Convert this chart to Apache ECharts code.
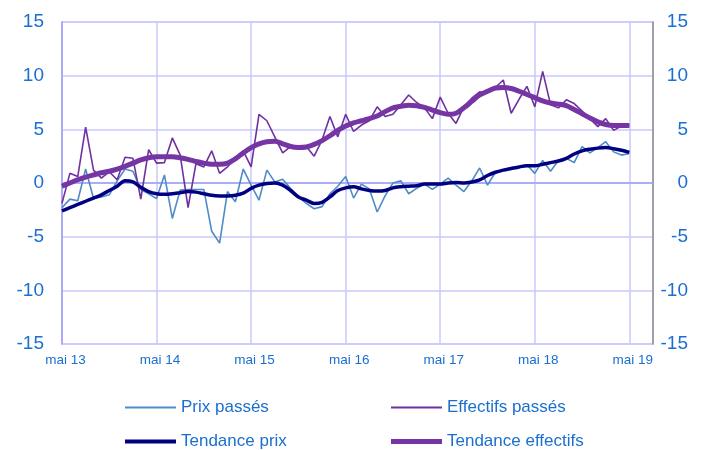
<!DOCTYPE html>
<html>
<head>
<meta charset="utf-8">
<script src="https://cdn.jsdelivr.net/npm/echarts@6/dist/echarts.min.js"></script>
<style>
  html, body { margin: 0; padding: 0; background: #fff; }
  #chart { width: 704px; height: 450px; }
</style>
</head>
<body>
<div id="chart"></div>
<script>
// mois : mai 2013 -> août 2019 (l'axe dépasse un peu la dernière donnée)
const monthNames = ['mai', 'juin', 'juil', 'août', 'sept', 'oct', 'nov', 'déc', 'janv', 'févr', 'mars', 'avr']
const years = ['13', '14', '15', '16', '17', '18', '19']
const months = []
years.forEach(y => monthNames.forEach((m, j) => {
  // l'année change en janvier
  const yy = j >= 8 ? String(Number(y) + 1) : y
  if (months.length < 76) months.push(m + ' ' + yy)
}))

const prixPasses = [
  -2.3, -1.5, -1.65, 1.3, -1.45, -1.3, -1.1, 0.2, 1.3, 1.1, -0.6, -1.0,
  -1.45, 0.75, -3.3, -0.65, -0.6, -0.6, -0.6, -4.5, -5.6, -0.8, -1.75, 1.3,
  -0.2, -1.6, 1.2, 0.1, 0.35, -0.5, -1.3, -1.9, -2.4, -2.2, -1.0, -0.3,
  0.6, -1.4, -0.1, -0.55, -2.7, -1.2, 0.0, 0.2, -1.0, -0.5, -0.1, -0.6,
  -0.1, 0.45, -0.2, -0.8, 0.2, 1.4, -0.2, 1.0, 1.2, 1.4, 1.5, 1.7,
  0.9, 2.1, 1.1, 2.1, 2.3, 1.9, 3.4, 2.8, 3.3, 3.85, 2.9, 2.6,
  2.75
]

const effectifsPasses = [
  -1.9, 0.9, 0.6, 5.2, 1.2, 0.45, 1.05, 0.3, 2.4, 2.3, -1.5, 3.1,
  1.85, 1.9, 4.2, 2.6, -2.3, 1.8, 1.5, 3.0, 0.9, 1.5, 2.4, 3.0,
  1.5, 6.4, 5.8, 4.3, 2.8, 3.4, 3.2, 3.4, 2.5, 4.0, 6.2, 4.3,
  6.4, 4.8, 5.4, 5.8, 7.1, 6.2, 6.4, 7.3, 8.2, 7.5, 7.0, 6.0,
  8.0, 6.5, 5.55, 7.1, 7.9, 8.5, 8.4, 8.9, 9.6, 6.5, 7.8, 9.0,
  7.1, 10.4, 7.3, 7.0, 7.75, 7.4, 6.7, 6.0, 5.25, 6.0, 4.9, 5.3,
  5.4
]

const tendancePrix = [
  -2.6, -2.3, -2.0, -1.7, -1.4, -1.1, -0.7, -0.3, 0.2, 0.1, -0.4, -0.8,
  -1.0, -1.05, -1.0, -0.9, -0.8, -0.85, -1.0, -1.15, -1.2, -1.2, -1.15, -0.95,
  -0.5, -0.2, -0.05, 0.0, -0.2, -0.7, -1.3, -1.6, -1.9, -1.8, -1.3, -0.7,
  -0.45, -0.35, -0.55, -0.7, -0.75, -0.7, -0.45, -0.35, -0.3, -0.25, -0.1, -0.1,
  -0.1, 0.0, 0.05, 0.0, 0.1, 0.3, 0.7, 1.0, 1.2, 1.35, 1.5, 1.6,
  1.6, 1.75, 1.9, 2.05, 2.3, 2.7, 3.0, 3.15, 3.25, 3.3, 3.2, 3.05,
  2.85
]

const tendanceEffectifs = [
  -0.3, 0.0, 0.3, 0.55, 0.75, 0.95, 1.1, 1.3, 1.55, 1.85, 2.15, 2.35,
  2.45, 2.45, 2.45, 2.35, 2.2, 2.0, 1.85, 1.75, 1.75, 1.85, 2.25, 2.8,
  3.3, 3.65, 3.85, 3.9, 3.65, 3.4, 3.3, 3.35, 3.6, 3.95, 4.4, 4.9,
  5.3, 5.6, 5.8, 6.0, 6.25, 6.65, 7.0, 7.15, 7.25, 7.2, 7.05, 6.8,
  6.55, 6.4, 6.5, 7.0, 7.6, 8.2, 8.55, 8.85, 8.9, 8.8, 8.55, 8.25,
  7.95, 7.65, 7.45, 7.35, 7.2, 6.85, 6.45, 6.05, 5.7, 5.45, 5.35, 5.35,
  5.35
]

const txt = '#1a6fcf'
const font = 'Liberation Sans, Arial, sans-serif'
const grille = '#c9c9ff'

const yAxe = (pos) => ({
  type: 'value', position: pos, min: -15, max: 15, interval: 5,
  axisLine: { show: true, lineStyle: { color: pos === 'left' ? '#9f9ff5' : '#8c8c8c', width: 1.5 } },
  axisTick: { show: false },
  axisLabel: pos === 'left'
    ? { color: txt, fontSize: 19, fontFamily: font, margin: 18 }
    : { color: txt, fontSize: 19, fontFamily: font, margin: 35, align: 'right' },
  splitLine: { show: pos === 'left', lineStyle: { color: grille, width: 1.5 } },
})

// une légende par entrée, placée comme dans l'original (2 x 2)
const leg = (name, left, top, h) => ({
  data: [{ name, icon: 'rect' }], left, top,
  itemWidth: 51, itemHeight: h,
  textStyle: { color: txt, fontSize: 17, fontFamily: font },
})

const chart = echarts.init(document.getElementById('chart'))
chart.setOption({
  animation: false,
  grid: { left: 62, right: 51, top: 22, bottom: 106, containLabel: false, show: true, borderColor: grille, borderWidth: 1.5 },
  legend: [
    leg('Prix passés', 120, 394, 2),
    leg('Effectifs passés', 386, 394, 2),
    leg('Tendance prix', 120, 428, 4),
    leg('Tendance effectifs', 386, 428, 5),
  ],
  xAxis: {
    type: 'category', data: months, boundaryGap: false,
    axisLine: { lineStyle: { color: '#9f9ff5', width: 1.5 } },
    axisTick: { show: false },
    axisLabel: { color: txt, fontSize: 13.5, fontFamily: font, margin: 9, padding: [0, 0, 0, 7], interval: i => i % 12 === 0 },
    splitLine: { show: true, interval: i => i % 12 === 0, lineStyle: { color: grille, width: 1.5 } },
  },
  yAxis: [yAxe('left'), yAxe('right')],
  series: [
    { name: 'Prix passés', type: 'line', data: prixPasses, symbol: 'none', lineStyle: { color: '#4f8bc6', width: 1.6 }, itemStyle: { color: '#4f8bc6' } },
    { name: 'Effectifs passés', type: 'line', data: effectifsPasses, symbol: 'none', lineStyle: { color: '#7030a0', width: 1.6 }, itemStyle: { color: '#7030a0' } },
    { name: 'Tendance prix', type: 'line', data: tendancePrix, symbol: 'none', smooth: 0.3, lineStyle: { color: '#000080', width: 3.5 }, itemStyle: { color: '#000080' } },
    { name: 'Tendance effectifs', type: 'line', data: tendanceEffectifs, symbol: 'none', smooth: 0.3, lineStyle: { color: '#7535a5', width: 5 }, itemStyle: { color: '#7535a5' } },
  ],
})
</script>
</body>
</html>
